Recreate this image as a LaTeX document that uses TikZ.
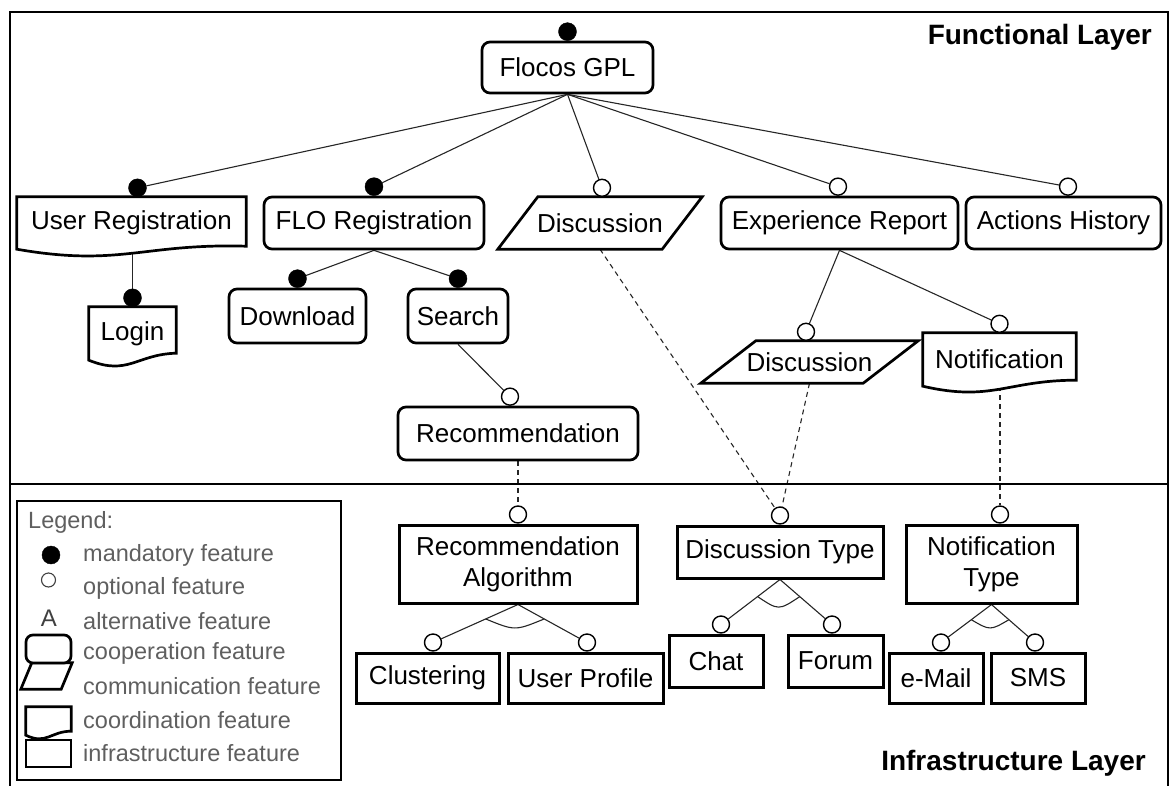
\documentclass[tikz,border=0pt]{standalone}
\usepackage{fontspec}
\setmainfont{Liberation Sans}
\usetikzlibrary{calc}
\definecolor{legendgray}{RGB}{95,95,95}
\pgfdeclarelayer{bgconn}
\pgfdeclarelayer{midshape}
\pgfsetlayers{bgconn,midshape,main}
\newcommand{\wavepath}[4]{%
  \draw[shapeline, fill=white] (#1.south west) -- (#1.north west) -- (#1.north east) -- ([yshift=#2]#1.south east)
    .. controls ($(#1.south east)!0.45!(#1.south west)+(0,#3)$) and ($(#1.south west)!0.45!(#1.south east)+(0,-#4)$) .. (#1.south west) -- cycle;}
\newcommand{\parapath}[2]{%
  \draw[shapeline, fill=white] (#1.south west) -- ([xshift=#2]#1.north west) -- (#1.north east) -- ([xshift=-#2]#1.south east) -- cycle;}
\tikzset{
  lab/.style={font=\fontsize{26}{31}\selectfont, align=center, inner sep=0pt},
  coop/.style={lab, draw, rounded corners=8pt, line width=2.7pt, fill=white},
  infra/.style={lab, draw, line width=3pt, fill=white},
  txtonly/.style={lab},
  shapeline/.style={line width=2.7pt, line join=miter},
  mand/.style={circle, fill=black, draw=black, inner sep=0pt, minimum size=18pt},
  opt/.style={circle, fill=white, draw=black, line width=1.4pt, inner sep=0pt, minimum size=17pt},
  conn/.style={line width=1.1pt, black!85},
  dconn/.style={conn, dash pattern=on 5pt off 4pt},
  framelines/.style={line width=2.8pt},
  layerlbl/.style={font=\fontsize{28}{32}\selectfont\bfseries, inner sep=0pt},
  legtext/.style={font=\fontsize{23.5}{28}\selectfont, text=legendgray, inner sep=0pt, anchor=west},
}
\begin{document}
\begin{tikzpicture}[x=1pt,y=-1pt]
\useasboundingbox (0,0) rectangle (1173,785);
% frame
\draw[framelines] (10,790) -- (10,12) -- (1168,12) -- (1168,790);
\draw[framelines] (10,484) -- (1168,484);
\node[layerlbl, anchor=east] (fl) at (1152,37) {Functional Layer};
\node[layerlbl, anchor=east] (il) at (1146,763) {Infrastructure Layer};

% functional layer nodes
\node[coop, minimum width=171pt, minimum height=51pt] (root) at (567.5,67.5) {Flocos GPL};
\node[txtonly, minimum width=229pt, minimum height=52pt] (ureg) at (131.5,223) {User Registration};
\node[coop, minimum width=220pt, minimum height=52pt] (floreg) at (374,223) {FLO Registration};
\node[txtonly, minimum width=204pt, minimum height=52pt] (disc) at (600,223) {Discussion};
\node[coop, minimum width=237pt, minimum height=52pt] (exp) at (839.5,223) {Experience Report};
\node[coop, minimum width=195pt, minimum height=52pt] (act) at (1063.5,223) {Actions History};
\node[txtonly, minimum width=87pt, minimum height=53pt] (login) at (132.5,333.5) {Login};
\node[coop, minimum width=137pt, minimum height=54pt] (download) at (297.5,316) {Download};
\node[coop, minimum width=100pt, minimum height=54pt] (search) at (458,316) {Search};
\node[coop, minimum width=240pt, minimum height=53pt] (rec) at (518,433.5) {Recommendation};
\node[txtonly, minimum width=217pt, minimum height=42pt] (disc2) at (809.5,362) {Discussion};
\node[txtonly, minimum width=153pt, minimum height=53pt] (notif) at (999.5,359.5) {Notification};

% infrastructure layer nodes
\node[infra, minimum width=238pt, minimum height=78pt] (ralg) at (518,564) {Recommendation\\Algorithm};
\node[infra, minimum width=206pt, minimum height=52pt] (dtype) at (780,552) {Discussion Type};
\node[infra, minimum width=171pt, minimum height=78pt] (ntype) at (991.5,564) {Notification\\Type};
\node[infra, minimum width=143pt, minimum height=50pt] (clus) at (427.5,678) {Clustering};
\node[infra, minimum width=155pt, minimum height=50pt] (uprof) at (585.5,678) {User Profile};
\node[infra, minimum width=94pt, minimum height=52pt] (chat) at (716,661) {Chat};
\node[infra, minimum width=95pt, minimum height=52pt] (forum) at (835.5,661) {Forum};
\node[infra, minimum width=94pt, minimum height=50pt] (email) at (936,678) {e-Mail};
\node[infra, minimum width=94pt, minimum height=50pt] (sms) at (1038,678) {SMS};

% custom shapes
\begin{pgfonlayer}{midshape}
  \wavepath{ureg}{3pt}{6pt}{18pt}
  \wavepath{login}{7pt}{6pt}{16pt}
  \wavepath{notif}{6pt}{6pt}{16pt}
  \parapath{disc}{40pt}
  \parapath{disc2}{55pt}
\end{pgfonlayer}

% feature markers
\node[mand] (m-root) at ([yshift=9pt]root.north) {};
\node[mand] (m-ureg) at ([xshift=6pt,yshift=9pt]ureg.north) {};
\node[mand] (m-floreg) at ([yshift=9pt]floreg.north) {};
\node[opt] (o-disc) at ([xshift=2pt,yshift=9pt]disc.north) {};
\node[opt] (o-exp) at ([xshift=-1.5pt,yshift=9pt]exp.north) {};
\node[opt] (o-act) at ([xshift=4.5pt,yshift=9pt]act.north) {};
\node[mand] (m-login) at ([yshift=9pt]login.north) {};
\node[mand] (m-download) at ([yshift=9pt]download.north) {};
\node[mand] (m-search) at ([yshift=9pt]search.north) {};
\node[opt] (o-rec) at ([xshift=-8pt,yshift=9pt]rec.north) {};
\node[opt] (o-disc2) at ([xshift=-3.5pt,yshift=9pt]disc2.north) {};
\node[opt] (o-notif) at ([yshift=9pt]notif.north) {};
\node[opt] (o-ralg) at ([yshift=9pt]ralg.north) {};
\node[opt] (o-dtype) at ([yshift=9pt]dtype.north) {};
\node[opt] (o-ntype) at ([xshift=8.5pt,yshift=9pt]ntype.north) {};
\node[opt] (o-clus) at ([xshift=5.5pt,yshift=9pt]clus.north) {};
\node[opt] (o-uprof) at ([xshift=1.5pt,yshift=9pt]uprof.north) {};
\node[opt] (o-chat) at ([xshift=5pt,yshift=9pt]chat.north) {};
\node[opt] (o-forum) at ([xshift=-3.5pt,yshift=9pt]forum.north) {};
\node[opt] (o-email) at ([xshift=5pt,yshift=9pt]email.north) {};
\node[opt] (o-sms) at ([xshift=-3pt,yshift=9pt]sms.north) {};

% connectors
\begin{pgfonlayer}{bgconn}
  \draw[conn] (root.south) -- (m-ureg);
  \draw[conn] (root.south) -- (m-floreg);
  \draw[conn] (root.south) -- (o-disc);
  \draw[conn] (root.south) -- (o-exp);
  \draw[conn] (root.south) -- (o-act);
  \draw[conn] (m-login |- ureg.south) -- (m-login);
  \draw[conn] (floreg.south) -- (m-download);
  \draw[conn] (floreg.south) -- (m-search);
  \draw[conn] (search.south) -- (o-rec);
  \draw[conn] (exp.south) -- (o-disc2);
  \draw[conn] (exp.south) -- (o-notif);
  \draw[dconn] (o-ralg |- rec.south) -- (o-ralg);
  \draw[dconn] (disc.south) -- (o-dtype);
  \draw[dconn] (disc2.south) -- (o-dtype);
  \draw[dconn] (o-ntype |- notif.south) -- (o-ntype);
  % alternative groups
  \draw[conn] (ralg.south) -- (o-clus);
  \draw[conn] (ralg.south) -- (o-uprof);
  \draw[conn] ($(ralg.south)!0.38!(o-clus)$) .. controls ($($(ralg.south)!0.38!(o-clus)$)!0.5!($(ralg.south)!0.38!(o-uprof)$)+(0,-12pt)$) .. ($(ralg.south)!0.38!(o-uprof)$);
  \draw[conn] (dtype.south) -- (o-chat);
  \draw[conn] (dtype.south) -- (o-forum);
  \draw[conn] ($(dtype.south)!0.38!(o-chat)$) .. controls ($($(dtype.south)!0.38!(o-chat)$)!0.5!($(dtype.south)!0.38!(o-forum)$)+(0,-14pt)$) .. ($(dtype.south)!0.38!(o-forum)$);
  \draw[conn] (ntype.south) -- (o-email);
  \draw[conn] (ntype.south) -- (o-sms);
  \draw[conn] ($(ntype.south)!0.4!(o-email)$) .. controls ($($(ntype.south)!0.4!(o-email)$)!0.5!($(ntype.south)!0.4!(o-sms)$)+(0,-11pt)$) .. ($(ntype.south)!0.4!(o-sms)$);
\end{pgfonlayer}

% legend
\node[draw, line width=1.5pt, minimum width=324pt, minimum height=279pt, inner sep=0pt] (legend) at (179,640.5) {};
\node[legtext] (lg-title) at (28,522) {Legend:};
\node[mand, minimum size=18pt] (lg-m) at (51,555) {};
\node[opt, minimum size=14pt, line width=1.1pt, draw=black!75] (lg-o) at (48.5,580) {};
\node[font=\fontsize{24}{28}\selectfont, text=black!75, inner sep=0pt] (lg-a) at (49,618) {A};
\node[coop, minimum width=45pt, minimum height=28pt, rounded corners=7pt] (lg-c) at (48.5,649) {};
\node[txtonly, minimum width=51pt, minimum height=26pt] (lg-p) at (46.5,676) {};
\node[txtonly, minimum width=45pt, minimum height=28pt] (lg-w) at (48.5,721) {};
\node[infra, minimum width=45pt, minimum height=27pt, line width=2.7pt] (lg-i) at (48.5,753.5) {};
\begin{pgfonlayer}{midshape}
  \parapath{lg-p}{11pt}
  \wavepath{lg-w}{4pt}{4pt}{10pt}
\end{pgfonlayer}
\node[legtext] (lt1) at (83,555) {mandatory feature};
\node[legtext] (lt2) at (83,588) {optional feature};
\node[legtext] (lt3) at (83,621) {alternative feature};
\node[legtext] (lt4) at (83,653) {cooperation feature};
\node[legtext] (lt5) at (83,686) {communication feature};
\node[legtext] (lt6) at (83,720) {coordination feature};
\node[legtext] (lt7) at (83,753) {infrastructure feature};
\end{tikzpicture}
\end{document}
